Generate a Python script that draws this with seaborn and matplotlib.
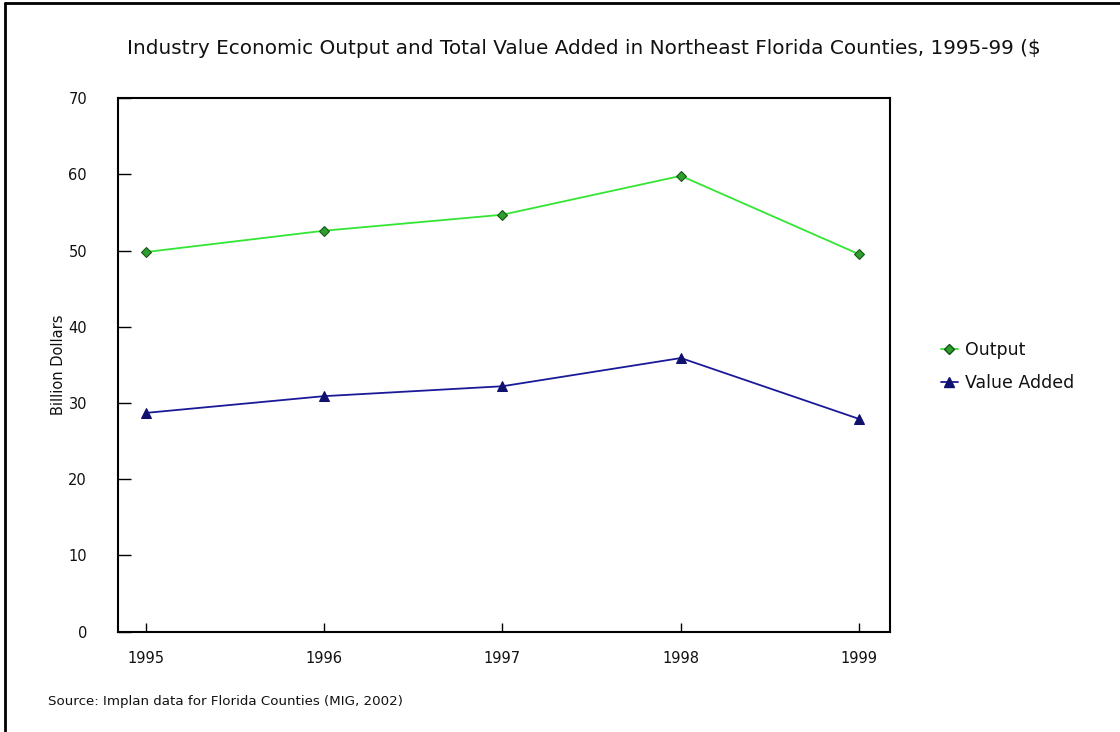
import matplotlib
matplotlib.use("Agg")
import matplotlib.pyplot as plt
import seaborn as sns
import pandas as pd
from matplotlib.lines import Line2D

years = [1995, 1996, 1997, 1998, 1999]
output_vals = [49.8, 52.6, 54.7, 59.8, 49.5]
value_added_vals = [28.7, 30.9, 32.2, 35.9, 27.9]
series_names = ["Output", "Value Added"]
y_ticks = [0, 10, 20, 30, 40, 50, 60, 70]

df = pd.DataFrame({
    "Year": years * 2,
    "Value": output_vals + value_added_vals,
    "Series": [series_names[0]] * len(years) + [series_names[1]] * len(years),
})

sns.set_style("white")
plt.rcParams["font.family"] = ["DejaVu Sans"]

fig = plt.figure(figsize=(11.2, 7.32), dpi=100)
ax = fig.add_axes([0.105, 0.137, 0.69, 0.729])

palette = {"Output": "#33e633", "Value Added": "#1a1a99"}
markers = {"Output": "D", "Value Added": "^"}
sns.lineplot(data=df, x="Year", y="Value", hue="Series", style="Series",
             palette=palette, markers=markers, dashes=False, linewidth=1.3,
             markersize=6, ax=ax, legend=False)
for line, name in zip(ax.get_lines(), series_names):
    if name == "Output":
        line.set_markerfacecolor("#2e9e2e")
        line.set_markeredgecolor("#145214")
        line.set_markersize(5.5)
    else:
        line.set_markerfacecolor("#10106e")
        line.set_markeredgecolor("#10106e")
        line.set_markersize(6.5)

ax.set_xlim(1995 - 0.157, 1999 + 0.174)
ax.set_ylim(0, 70)
ax.set_xticks(years)
ax.set_xticklabels([str(y) for y in years])
ax.set_yticks(y_ticks)
ax.tick_params(axis="x", bottom=True, top=False, direction="in", length=6.5, width=1.0,
               labelsize=10.5, pad=14, color="black", labelcolor="#111111")
ax.tick_params(axis="y", left=True, right=False, direction="in", length=9, width=1.0,
               labelsize=10.5, pad=22, color="black", labelcolor="#111111")
for s in ax.spines.values():
    s.set_visible(True)
    s.set_color("black")
    s.set_linewidth(1.5)
ax.set_xlabel("")
ax.set_ylabel("Billion Dollars", fontsize=10.5, labelpad=1.5, color="#111111")

fig.text(0.521, 0.934, "Industry Economic Output and Total Value Added in Northeast Florida Counties, 1995-99 ($",
         ha="center", va="center", fontsize=14.4, color="#111111")
fig.text(0.043, 0.041, "Source: Implan data for Florida Counties (MIG, 2002)", ha="left", va="center",
         fontsize=9.6, color="#111111")

handles = [
    Line2D([], [], color=palette["Output"], marker="D", markerfacecolor="#2e9e2e",
           markeredgecolor="#145214", markersize=5.5, linewidth=1.3),
    Line2D([], [], color=palette["Value Added"], marker="^", markerfacecolor="#10106e",
           markeredgecolor="#10106e", markersize=6.5, linewidth=1.3),
]
fig.legend(handles, series_names, loc="center left", bbox_to_anchor=(0.826, 0.499),
           frameon=False, fontsize=12.5, handlelength=1.0, handletextpad=0.4, labelspacing=0.85,
           labelcolor="#111111")

fig.add_artist(Line2D([0.0045, 0.0045], [0.0, 0.996], transform=fig.transFigure, color="black", linewidth=2))
fig.add_artist(Line2D([0.0045, 1.0], [0.996, 0.996], transform=fig.transFigure, color="black", linewidth=2))

fig.savefig("out.png", dpi=100, facecolor="white")
